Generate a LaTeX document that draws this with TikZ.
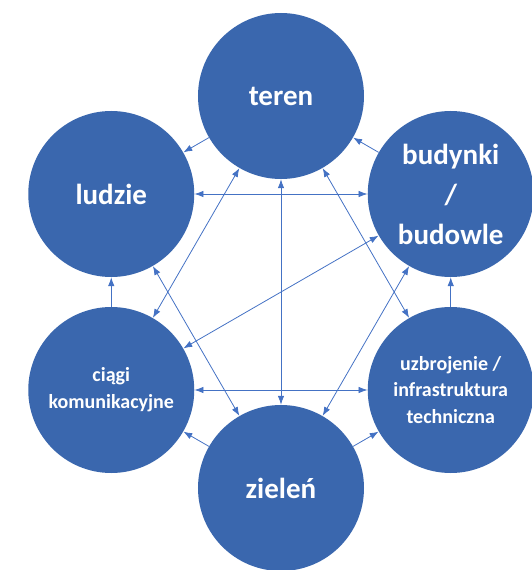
\documentclass[tikz,border=0pt]{standalone}
\usepackage{fontspec}
\setmainfont{Carlito}
\usepackage{tikz}
\usetikzlibrary{arrows.meta}
\definecolor{circblue}{RGB}{58,103,174}
\definecolor{lineblue}{RGB}{68,114,196}
\tikzstyle{topic} = [circle, fill=circblue, text=white, align=center, inner sep=0pt, minimum size=166pt]
\tikzstyle{big} = [font=\fontsize{29}{40}\selectfont\bfseries]
\tikzstyle{small} = [font=\fontsize{20}{26.7}\selectfont\bfseries]
\tikzstyle{link} = [draw=lineblue, line width=0.8pt]

\begin{document}
\begin{tikzpicture}[>={Latex[length=9pt,width=6.5pt]}]
\useasboundingbox (-281pt,-278pt) rectangle (250pt,292pt);
% circles
\node [topic, big] (teren) at (90:196pt) {teren};
\node [topic, big] (ludzie) at (150:196pt) {ludzie};
\node [topic, big] (budynki) at (30:196pt) {budynki\\/\\budowle};
\node [topic, small] (ciagi) at (210:196pt) {ciągi\\komunikacyjne};
\node [topic, small] (uzbrojenie) at (-30:196pt) {uzbrojenie /\\infrastruktura\\techniczna};
\node [topic, big] (zielen) at (-90:196pt) {zieleń};
% outer ring
\draw [link, ->] (teren.210) -- (ludzie.30);
\draw [link, ->] (budynki.150) -- (teren.330);
\draw [link, ->] (ciagi.90) -- (ludzie.270);
\draw [link, ->] (uzbrojenie.90) -- (budynki.270);
\draw [link, ->] (zielen.150) -- (ciagi.330);
\draw [link, ->] (zielen.30) -- (uzbrojenie.210);
% inner links
\draw [link, <->] (ludzie.0) -- (budynki.180);
\draw [link, <->] (ciagi.0) -- (uzbrojenie.180);
\draw [link, <->] (teren.270) -- (zielen.90);
\draw [link, <->] (ludzie.300) -- (zielen.120);
\draw [link, <->] (teren.240) -- (ciagi.60);
\draw [link, <->] (budynki.210) -- (ciagi.30);
\draw [link, <->] (teren.300) -- (uzbrojenie.120);
\draw [link, <->] (budynki.240) -- (zielen.60);
\end{tikzpicture}
\end{document}
